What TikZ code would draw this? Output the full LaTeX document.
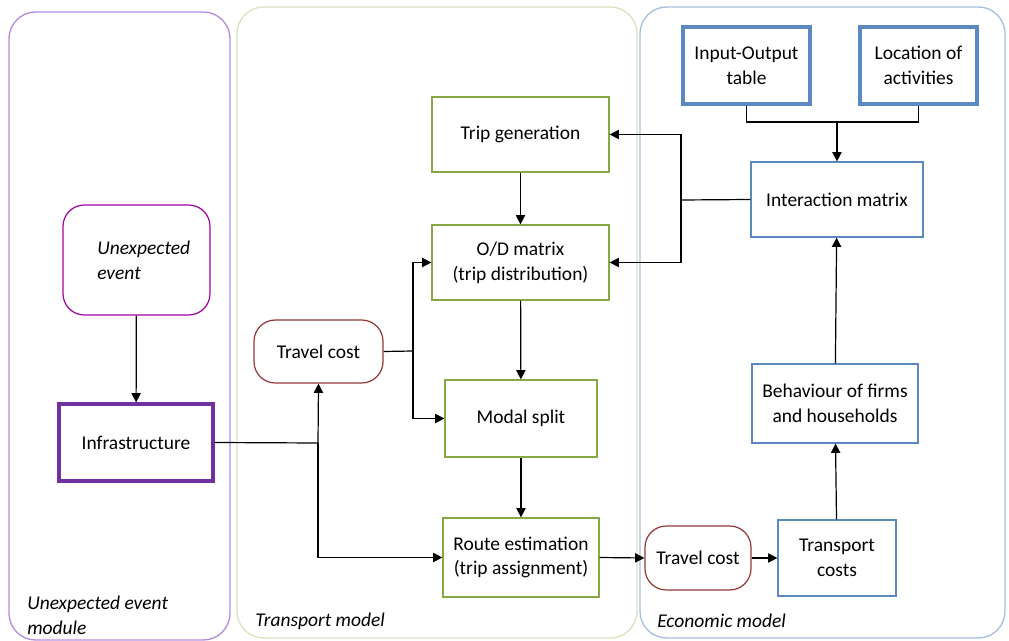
\documentclass[tikz,border=0pt]{standalone}
\usepackage{fontspec}
\setmainfont{Carlito}
\usetikzlibrary{arrows.meta}
\definecolor{pOne}{HTML}{B48CDC}
\definecolor{pTwo}{HTML}{D7E4BD}
\definecolor{pThree}{HTML}{A6BFDF}
\definecolor{ueC}{HTML}{A000A0}
\definecolor{infC}{HTML}{7030A0}
\definecolor{grnC}{HTML}{86A845}
\definecolor{bluC}{HTML}{5B88C0}
\definecolor{redC}{HTML}{943634}
\tikzset{
  panel/.style={draw, line width=1pt, rounded corners=20pt},
  box/.style={draw, line width=0.9pt, align=center, inner sep=0pt, font=\fontsize{14.6}{18.6}\selectfont},
  grnbox/.style={box, draw=grnC},
  blubox/.style={box, draw=bluC},
  thkblu/.style={box, draw=bluC, line width=2.4pt},
  costbox/.style={box, draw=redC, rounded corners=16pt},
  conn/.style={line width=0.9pt, -{Triangle[length=7pt,width=7pt]}},
  plain/.style={line width=0.9pt},
  lbl/.style={font=\fontsize{14.6}{18.6}\selectfont\itshape, anchor=west, align=left, inner sep=0pt}
}
\begin{document}
\begin{tikzpicture}[x=0.75pt,y=-0.75pt]
\useasboundingbox (0,0) rectangle (1009,641);
% panels
\draw[panel, draw=pOne] (9,12) rectangle (230,640);
\draw[panel, draw=pTwo] (237,7) rectangle (637,638);
\draw[panel, draw=pThree] (640,7) rectangle (1005,638);
\node[lbl] (lab1) at (27,615) {Unexpected event\\module};
\node[lbl] (lab2) at (255,621) {Transport model};
\node[lbl] (lab3) at (657,621) {Economic model};
% unexpected event module
\node[box, draw=ueC, rounded corners=16pt, minimum width=147*0.75pt, minimum height=110*0.75pt] (ue) at (136.5,260) {};
\node[font=\fontsize{14.6}{18.6}\selectfont\itshape, align=left, anchor=west, inner sep=0pt] (uet) at (97,260) {Unexpected\\event};
\node[box, draw=infC, line width=2.4pt, minimum width=154*0.75pt, minimum height=77*0.75pt] (inf) at (136,442.5) {Infrastructure};
% transport model
\node[costbox, minimum width=129*0.75pt, minimum height=63*0.75pt] (tc1) at (318.5,351.5) {Travel cost};
\node[grnbox, minimum width=177*0.75pt, minimum height=75*0.75pt] (tg) at (520.5,134.5) {Trip generation};
\node[grnbox, minimum width=177*0.75pt, minimum height=75*0.75pt] (od) at (520.5,262.5) {O/D matrix\\(trip distribution)};
\node[grnbox, minimum width=152*0.75pt, minimum height=77*0.75pt] (ms) at (521,418.5) {Modal split};
\node[grnbox, minimum width=156*0.75pt, minimum height=79*0.75pt] (re) at (521,557.5) {Route estimation\\(trip assignment)};
% economic model
\node[costbox, minimum width=106*0.75pt, minimum height=64*0.75pt] (tc2) at (698,558) {Travel cost};
\node[blubox, minimum width=118*0.75pt, minimum height=76*0.75pt] (tr) at (837,558) {Transport\\costs};
\node[blubox, minimum width=166*0.75pt, minimum height=79*0.75pt] (bf) at (835,403.5) {Behaviour of firms\\and households};
\node[blubox, minimum width=172*0.75pt, minimum height=75*0.75pt] (im) at (837,199.5) {Interaction matrix};
\node[thkblu, minimum width=127*0.75pt, minimum height=77*0.75pt] (io) at (746.5,65.5) {Input-Output\\table};
\node[thkblu, minimum width=117*0.75pt, minimum height=77*0.75pt] (la) at (918.5,65.5) {Location of\\activities};
% junction coordinates
\coordinate (j1) at (318,443);
\coordinate (j2) at (413,351);
\coordinate (j3) at (681,200);
\coordinate (j4) at (837,122);
% connectors
\draw[conn] (ue) -- (inf);
\draw[plain] (inf.east) -- (j1);
\draw[conn] (j1) -- (tc1.south);
\draw[conn] (j1) |- (re.west);
\draw[plain] (tc1.east) -- (j2);
\draw[conn] (j2) |- (od.west);
\draw[conn] (j2) |- (ms.west);
\draw[conn] (tg) -- (od);
\draw[conn] (od) -- (ms);
\draw[conn] (ms) -- (re);
\draw[conn] (re.east) -- (tc2.west);
\draw[conn] (tc2.east) -- (tr.west);
\draw[conn] (tr) -- (bf);
\draw[conn] (bf) -- (im);
\draw[plain] (io.south) |- (j4) -| (la.south);
\draw[conn] (j4) -- (im.north);
\draw[plain] (im.west) -- (j3);
\draw[conn] (j3) |- (tg.east);
\draw[conn] (j3) |- (od.east);
\end{tikzpicture}
\end{document}
